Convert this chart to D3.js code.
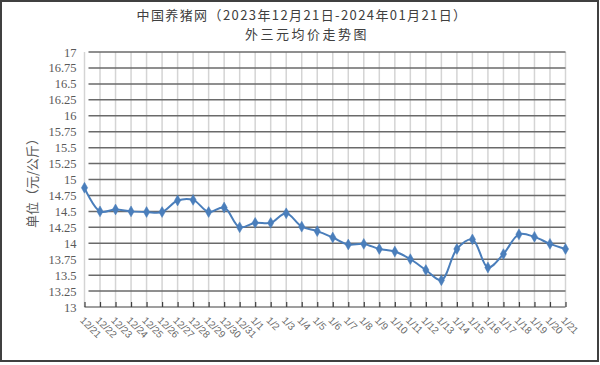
<!DOCTYPE html>
<html><head><meta charset="utf-8">
<script src="https://cdn.jsdelivr.net/npm/d3@7/dist/d3.min.js"></script>
<style>
html,body{margin:0;padding:0;background:#fff;}
svg{display:block;}
</style></head>
<body>
<svg id="chart" width="600" height="365"></svg>
<script>
const titleLines = ["中国养猪网（2023年12月21日-2024年01月21日）", "外三元均价走势图"];
const yAxisTitle = "单位（元/公斤）";
const categories = ["12/21","12/22","12/23","12/24","12/25","12/26","12/27","12/28","12/29","12/30","12/31",
  "1/1","1/2","1/3","1/4","1/5","1/6","1/7","1/8","1/9","1/10","1/11","1/12","1/13","1/14","1/15","1/16","1/17","1/18","1/19","1/20","1/21"];
const prices = [14.87,14.50,14.53,14.50,14.49,14.49,14.67,14.68,14.49,14.56,14.25,
  14.32,14.32,14.47,14.26,14.19,14.09,13.98,13.99,13.91,13.87,13.75,13.58,13.42,13.91,14.06,13.62,13.83,14.14,14.10,13.99,13.91];
const yTicks = [13,13.25,13.5,13.75,14,14.25,14.5,14.75,15,15.25,15.5,15.75,16,16.25,16.5,16.75,17];
const yTickLabels = ["13","13.25","13.5","13.75","14","14.25","14.5","14.75","15","15.25","15.5","15.75","16","16.25","16.5","16.75","17"];

const svg = d3.select("#chart");
const plotL = 84.5, plotR = 565.5, plotT = 52, plotB = 307;

// border
svg.append("rect").attr("x",1).attr("y",1).attr("width",597).attr("height",360)
  .attr("fill","#fff").attr("stroke","#404040").attr("stroke-width",2);

const x = d3.scalePoint().domain(categories).range([plotL, plotR]);
const y = d3.scaleLinear().domain([13,17]).range([plotB, plotT]);

// vertical gridlines
svg.append("g").selectAll("line").data(categories).join("line")
  .attr("x1",d=>x(d)).attr("x2",d=>x(d)).attr("y1",plotT).attr("y2",plotB)
  .attr("stroke","#d4d4d4").attr("stroke-width",1.5);

// horizontal gridlines
svg.append("g").selectAll("line").data(yTicks.slice(1)).join("line")
  .attr("x1",plotL+4).attr("x2",plotR).attr("y1",d=>y(d)).attr("y2",d=>y(d))
  .attr("stroke","#6a6a6a").attr("stroke-width",1.5);

// y axis labels
const yAxis = d3.axisLeft(y).tickValues(yTicks).tickFormat((d,i)=>yTickLabels[i]).tickSize(0).tickPadding(8);
const gy = svg.append("g").attr("transform",`translate(${plotL},0)`).call(yAxis);
gy.select(".domain").remove();
gy.selectAll("text").attr("font-family","'Liberation Serif','DejaVu Serif',serif").attr("font-size",12.5)
  .attr("fill","#595959");

// x axis
const xAxis = d3.axisBottom(x).tickSize(-5).tickFormat("");
const gx = svg.append("g").attr("transform",`translate(0,${plotB})`).call(xAxis);
gx.select(".domain").attr("stroke","#404040").attr("stroke-width",1.2).attr("d",`M${plotL},0H${plotR}`);
gx.selectAll(".tick line").attr("stroke","#404040").attr("stroke-width",1.2);

// x labels rotated
svg.append("g").selectAll("text").data(categories).join("text")
  .attr("transform",d=>`translate(${x(d)-5},${plotB+14}) rotate(45)`)
  .attr("font-family","'Liberation Sans',Arial,sans-serif").attr("font-size",10)
  .attr("fill","#6a6a6a").attr("text-anchor","start")
  .text(d=>d);

// line
const line = d3.line().x((d,i)=>x(categories[i])).y(d=>y(d)).curve(d3.curveCatmullRom.alpha(0.5));
svg.append("path").datum(prices).attr("d",line).attr("fill","none")
  .attr("stroke","#4a7ebb").attr("stroke-width",2);

// markers
svg.append("g").selectAll("path").data(prices).join("path")
  .attr("transform",(d,i)=>`translate(${x(categories[i])},${y(d)})`)
  .attr("d",d3.symbol().type(d3.symbolDiamond).size(34))
  .attr("fill","#4a7ebb").attr("stroke","#4a7ebb").attr("stroke-width",0.5);

// titles
svg.append("text").attr("x",302).attr("y",20).attr("text-anchor","middle")
  .attr("font-family","'Noto Sans CJK SC',sans-serif").attr("font-size",13).attr("letter-spacing",1.4)
  .attr("fill","#404040").text(titleLines[0]);
svg.append("text").attr("x",307).attr("y",39).attr("text-anchor","middle")
  .attr("font-family","'Noto Sans CJK SC',sans-serif").attr("font-size",13).attr("letter-spacing",2.5)
  .attr("fill","#404040").text(titleLines[1]);

// y axis title
svg.append("text").attr("transform","translate(37,180) rotate(-90)").attr("text-anchor","middle")
  .attr("font-family","'Noto Sans CJK SC',sans-serif").attr("font-size",13)
  .attr("fill","#595959").text(yAxisTitle);
</script>
</body></html>
